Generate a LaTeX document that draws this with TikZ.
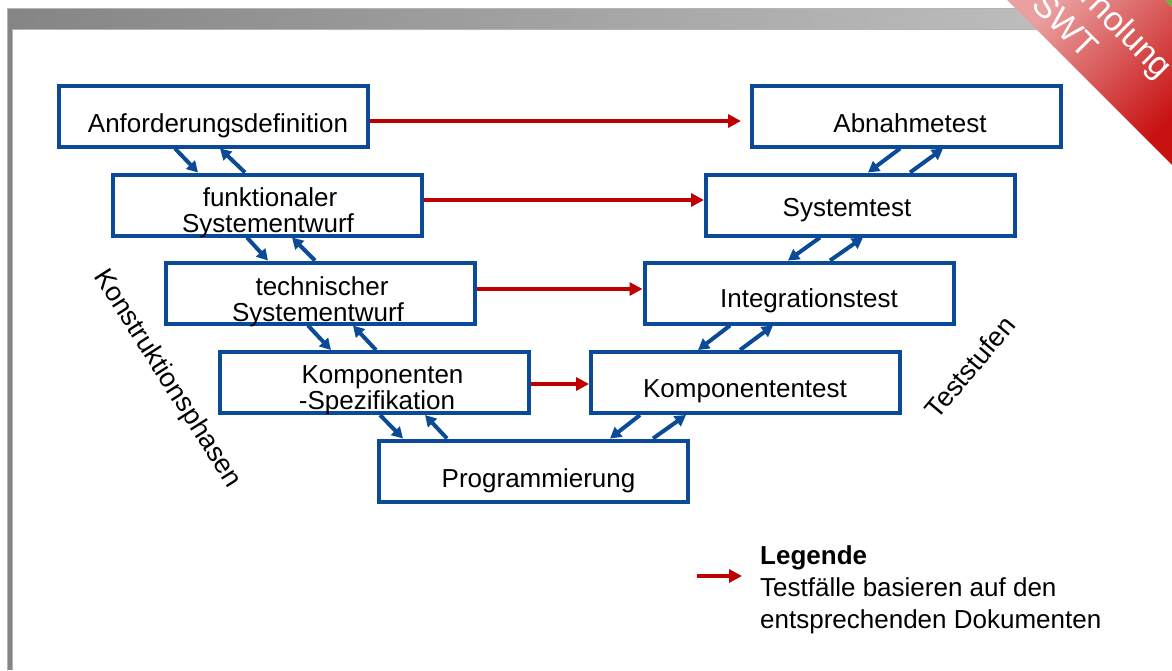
\documentclass[tikz,border=0pt]{standalone}
\usepackage{fontspec}
\setmainfont{Liberation Sans}
\usetikzlibrary{arrows.meta}
\definecolor{vblue}{HTML}{0B4A96}
\definecolor{vred}{HTML}{C00000}
\definecolor{barl}{HTML}{858585}
\definecolor{barr}{HTML}{C4C4C4}
\definecolor{barline}{HTML}{B4B4B4}
\definecolor{ribl}{HTML}{EAA0A0}
\definecolor{ribd}{HTML}{C81212}
\definecolor{ribgreen}{HTML}{6CB33F}
\begin{document}
\begin{tikzpicture}[x=1pt,y=-1pt,
  box/.style={draw=vblue, line width=4pt, minimum width=309pt, minimum height=61pt, inner sep=0pt},
  txt/.style={font=\fontsize{26}{26}\selectfont, inner sep=0pt, anchor=base},
  legtxt/.style={font=\fontsize{26}{26}\selectfont, inner sep=0pt, anchor=base west},
  barrow/.style={draw=vblue, line width=4pt, -{Triangle[length=11pt,width=12pt]}},
  rarrow/.style={draw=vred, line width=4pt, -{Triangle[length=13pt,width=13pt]}},
  side/.style={font=\fontsize{27}{27}\selectfont, inner sep=0pt},
]
\useasboundingbox (0,0) rectangle (1172,670);
\fill[white] (0,0) rectangle (1172,670);
% frame
\fill[barl] (7.5,8) rectangle (11.5,670);
\shade[left color=barl, right color=barr] (7.5,8) rectangle (1172,28.5);
\draw[barline, line width=0.8pt] (7.5,670) -- (7.5,8) -- (1172,8);
\draw[barline, line width=0.8pt] (12,670) -- (12,29) -- (1172,29);
% ribbon
\begin{scope}
\clip (0,0) rectangle (1172,670);
\shade[top color=ribl, bottom color=ribd, shading angle=45] (1007,0) -- (1165,0) -- (1172,7) -- (1172,165) -- cycle;
\fill[ribgreen] (1165,0) -- (1172,0) -- (1172,7) -- cycle;
\node[white, font=\fontsize{34}{39}\selectfont, rotate=-45, align=center, inner sep=0pt] (rib) at (1080,11) {Wiederholung\\SWT};
\end{scope}
% boxes
\node[box] (b1) at (213.5,116) {};
\node[box] (b2) at (267,205) {};
\node[box] (b3) at (320,293) {};
\node[box] (b4) at (374.5,382.5) {};
\node[box] (b5) at (533,471) {};
\node[box] (b6) at (906,116) {};
\node[box] (b7) at (860.5,205) {};
\node[box] (b8) at (799,293) {};
\node[box] (b9) at (745.5,382.5) {};
% texts
\node[txt] (t1) at (218,132) {Anforderungsdefinition};
\node[txt] (t2a) at (270,206) {funktionaler};
\node[txt] (t2b) at (268,232) {Systementwurf};
\node[txt] (t3a) at (322,295) {technischer};
\node[txt] (t3b) at (318,321) {Systementwurf};
\node[txt] (t4a) at (382.5,383) {Komponenten};
\node[txt] (t4b) at (377,409) {-Spezifikation};
\node[txt] (t5) at (538.5,487) {Programmierung};
\node[txt] (t6) at (910,132) {Abnahmetest};
\node[txt] (t7) at (847,216) {Systemtest};
\node[txt] (t8) at (809,307) {Integrationstest};
\node[txt] (t9) at (745,397) {Komponententest};
% left blue arrows
\draw[barrow] ([xshift=118pt]b1.south west) -- ([xshift=87.5pt]b2.north west);
\draw[barrow] ([xshift=134.5pt]b2.north west) -- ([xshift=163pt]b1.south west);
\draw[barrow] ([xshift=136.5pt]b2.south west) -- ([xshift=104.5pt]b3.north west);
\draw[barrow] ([xshift=151.5pt]b3.north west) -- ([xshift=181.5pt]b2.south west);
\draw[barrow] ([xshift=144.5pt]b3.south west) -- ([xshift=113pt]b4.north west);
\draw[barrow] ([xshift=158pt]b4.north west) -- ([xshift=189.5pt]b3.south west);
\draw[barrow] ([xshift=162pt]b4.south west) -- ([xshift=26.5pt]b5.north west);
\draw[barrow] ([xshift=70.5pt]b5.north west) -- ([xshift=207pt]b4.south west);
% right blue arrows
\draw[barrow] ([xshift=150.5pt]b6.south west) -- ([xshift=164pt]b7.north west);
\draw[barrow] ([xshift=206pt]b7.north west) -- ([xshift=193.5pt]b6.south west);
\draw[barrow] ([xshift=116pt]b7.south west) -- ([xshift=145.5pt]b8.north west);
\draw[barrow] ([xshift=187.5pt]b8.north west) -- ([xshift=159pt]b7.south west);
\draw[barrow] ([xshift=87.5pt]b8.south west) -- ([xshift=109pt]b9.north west);
\draw[barrow] ([xshift=151pt]b9.north west) -- ([xshift=130.5pt]b8.south west);
\draw[barrow] ([xshift=51pt]b9.south west) -- ([xshift=233.5pt]b5.north west);
\draw[barrow] ([xshift=276.5pt]b5.north west) -- ([xshift=97pt]b9.south west);
% red arrows
\draw[rarrow, shorten >=8.5pt] ([yshift=-5pt]b1.east) -- ([yshift=-5pt]b6.west);
\draw[rarrow] ([yshift=5pt]b2.east) -- ([yshift=5pt]b7.west);
\draw[rarrow] ([yshift=4pt]b3.east) -- ([yshift=4pt]b8.west);
\draw[rarrow] ([yshift=-1.5pt]b4.east) -- ([yshift=-1.5pt]b9.west);
% side labels
\node[side, rotate=-57.5] (kp) at (167,379) {Konstruktionsphasen};
\node[side, rotate=50] (ts) at (970,367) {Teststufen};
% legend
\coordinate (la) at (697,576);
\coordinate (lb) at (742,576);
\draw[rarrow] (la) -- (lb);
\node[legtxt] (lg1) at (760,564) {\textbf{Legende}};
\node[legtxt] (lg2) at (760,596) {Testfälle basieren auf den};
\node[legtxt] (lg3) at (760,628) {entsprechenden Dokumenten};
\end{tikzpicture}
\end{document}
